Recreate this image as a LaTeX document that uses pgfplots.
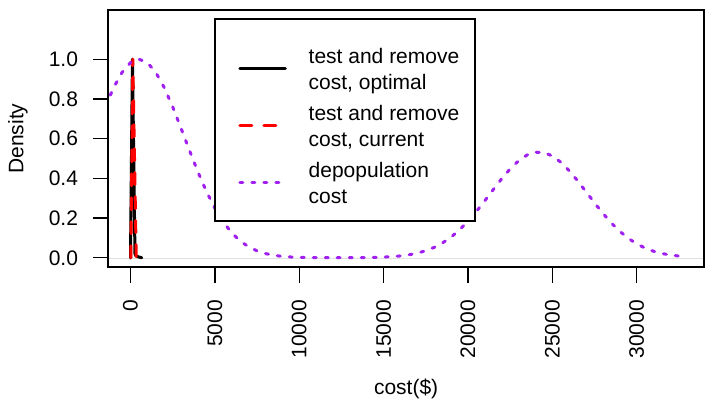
\documentclass[border=0pt]{standalone}
\usepackage{fontspec}
\setmainfont{Liberation Sans}
\usepackage{pgfplots}
\pgfplotsset{compat=1.18}
\definecolor{rpurple}{HTML}{A020F0}
\begin{document}
\fontsize{21bp}{26bp}\selectfont
\begin{tikzpicture}
\useasboundingbox (-108.3bp,-147.7bp) rectangle (605.7bp,267.3bp);
\begin{axis}[
  name=ax,
  at={(0,0)}, anchor=south west,
  scale only axis, width=595.7bp, height=257.3bp,
  xmin=-1316, xmax=33988, ymin=-0.048, ymax=1.248,
  axis line style={line width=2bp, black},
  tick align=outside, major tick length=15.5bp,
  tick style={line width=1.4bp, black},
  xtick pos=left, ytick pos=left,
  scaled x ticks=false, scaled y ticks=false,
  xtick={0,5000,10000,15000,20000,25000,30000},
  xticklabels={0,5000,10000,15000,20000,25000,30000},
  ytick={0,0.2,0.4,0.6,0.8,1},
  yticklabels={0.0,0.2,0.4,0.6,0.8,1.0},
  xticklabel style={rotate=90, anchor=east, inner xsep=17.2bp, inner ysep=0pt},
  yticklabel style={anchor=east, inner xsep=14.6bp, inner ysep=0pt},
  xlabel={cost(\$)}, ylabel={Density},
  every axis x label/.style={at={(axis description cs:0.5,-0.474)}, anchor=center},
  every axis y label/.style={at={(axis description cs:-0.1516,0.5)}, rotate=90, anchor=center},
  legend cell align=left,
  legend style={draw=none, fill=none, at={(axis description cs:0.2181,0.8636)}, anchor=north west,
    inner sep=0pt, row sep=5.2bp, column sep=21.8bp,
    nodes={inner sep=0pt, text depth={}}},
  legend image code/.code={\draw[#1] (0bp,2.8bp) -- (45.5bp,2.8bp);},
]
\addplot[black!12, line width=0.4bp, forget plot] coordinates {(-2000,0) (35000,0)};
\addplot[black, line width=3bp, line cap=round, line join=round] coordinates {
(0,0) (115,1.0) (265,0.02) (320,0.01) (450,0.005) (670,0.0)};
\addplot[red, line width=3bp, line cap=round, line join=round, dash pattern=on 12bp off 12bp] coordinates {
(20,0) (135,1.0) (340,0)};
\addplot[rpurple, line width=3bp, line cap=round, line join=round, dash pattern=on 3bp off 9bp] coordinates {
(-2000,0.6513) (-1500,0.7601) (-1000,0.8570) (-500,0.9337) (0,0.9830) (500,1.0000)
(1000,0.9830) (1500,0.9337) (2000,0.8570) (2500,0.7601) (3000,0.6513) (3500,0.5394)
(4000,0.4316) (4500,0.3337) (5000,0.2494) (5500,0.1800) (6000,0.1256) (6500,0.0847)
(7000,0.0551) (7500,0.0347) (8000,0.0211) (8500,0.0124) (9000,0.0070) (9500,0.0039)
(10000,0.0021) (11000,0.0006) (12000,0.0002) (13000,0.0003) (14000,0.0010) (15000,0.0032)
(16000,0.0093) (16500,0.0149) (17000,0.0234) (17500,0.0356) (18000,0.0525) (18500,0.0752)
(19000,0.1044) (19500,0.1408) (20000,0.1840) (20500,0.2335) (21000,0.2875) (21500,0.3435)
(22000,0.3981) (22500,0.4478) (23000,0.4887) (23500,0.5175) (24000,0.5317) (24500,0.5301)
(25000,0.5129) (25500,0.4814) (26000,0.4385) (26500,0.3875) (27000,0.3323) (27500,0.2765)
(28000,0.2232) (28500,0.1748) (29000,0.1329) (29500,0.0980) (30000,0.0702) (30500,0.0487)
(31000,0.0328) (31500,0.0215) (32000,0.0136) (32680,0.0070)};
\draw[fill=white, line width=1.8bp] (axis description cs:0.1791,0.9639) rectangle (axis description cs:0.6156,0.1811);
\addlegendentry{\begin{tabular}{@{}l@{}}test and remove\\cost, optimal\end{tabular}}
\addlegendentry{\begin{tabular}{@{}l@{}}test and remove\\cost, current\end{tabular}}
\addlegendentry{\begin{tabular}{@{}l@{}}depopulation\\cost\end{tabular}}
\end{axis}
\draw[line width=2bp, black] (ax.south west) rectangle (ax.north east);
\end{tikzpicture}
\end{document}
